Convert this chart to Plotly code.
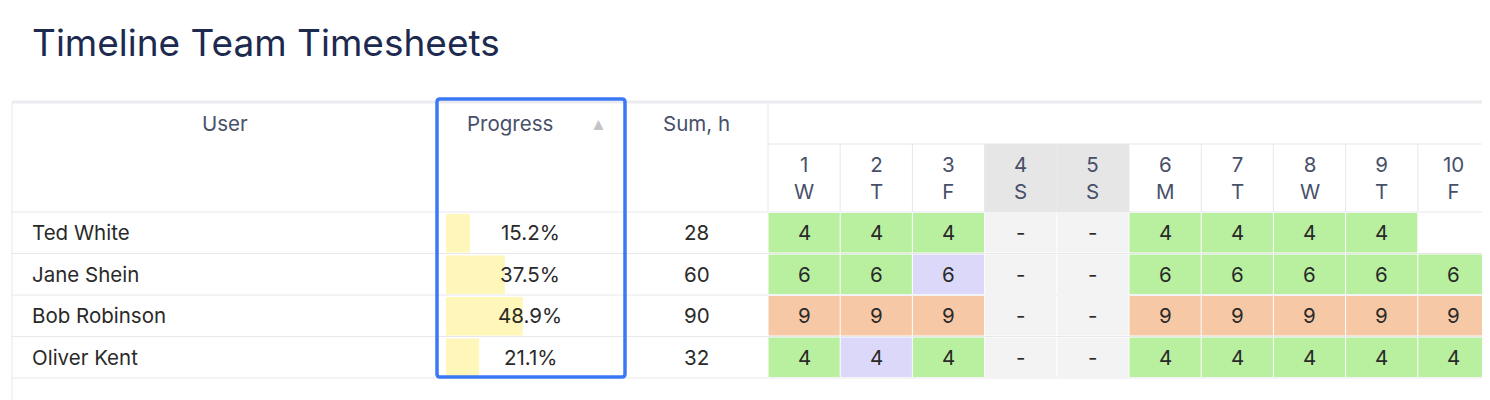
import plotly.graph_objects as go

title = "Timeline Team Timesheets"
users = ["Ted White", "Jane Shein", "Bob Robinson", "Oliver Kent"]
progress = [15.2, 37.5, 48.9, 21.1]
sums = [28, 60, 90, 32]
day_nums = ["1", "2", "3", "4", "5", "6", "7", "8", "9", "10"]
day_letters = ["W", "T", "F", "S", "S", "M", "T", "W", "T", "F"]
weekend = [False, False, False, True, True, False, False, False, False, False]
hours = [
    [4, 4, 4, None, None, 4, 4, 4, 4, None],
    [6, 6, 6, None, None, 6, 6, 6, 6, 6],
    [9, 9, 9, None, None, 9, 9, 9, 9, 9],
    [4, 4, 4, None, None, 4, 4, 4, 4, 4],
]
# status: g=normal, p=adjusted, o=overtime, w=weekend, e=empty
status = [
    ["g", "g", "g", "w", "w", "g", "g", "g", "g", "e"],
    ["g", "g", "p", "w", "w", "g", "g", "g", "g", "g"],
    ["o", "o", "o", "w", "w", "o", "o", "o", "o", "o"],
    ["g", "p", "g", "w", "w", "g", "g", "g", "g", "g"],
]

COL = {"g": "#b9f0a0", "p": "#dcd8fa", "o": "#f7c8a6", "w": "#f3f3f3", "e": "#ffffff"}
HDR = "#475069"
TXT = "#2a2a2a"
FONT = "Inter"
FS = 20.5
LINE = "#e8e8ec"

user_x = (12, 437)
prog_x = (437, 625)
sum_x = (625, 768)
day0, dayw = 768, 72.2
hdr_top, hdr_mid, hdr_bot = 102, 144, 212
row_h = 41.5

shapes, ann = [], []

def rect(x0, y0, x1, y1, fill):
    shapes.append(dict(type="rect", xref="x", yref="y", x0=x0, y0=y0, x1=x1, y1=y1,
                       fillcolor=fill, line=dict(width=0), layer="below"))

def text(x, y, t, color=TXT, size=FS, xanchor="center"):
    ann.append(dict(x=x, y=y, xref="x", yref="y", text=t, showarrow=False,
                    font=dict(family=FONT, size=size, color=color), xanchor=xanchor, yanchor="middle"))

shapes.append(dict(type="line", x0=12, x1=1500, y0=hdr_top, y1=hdr_top, line=dict(color="#ececf0", width=3)))
shapes.append(dict(type="line", x0=12, x1=12, y0=hdr_top, y1=400, line=dict(color=LINE, width=1)))
text(sum(user_x) / 2, 123, "User", HDR)
text(510, 123, "Progress", HDR)
ann.append(dict(x=598, y=123, xref="x", yref="y", text="▲", showarrow=False,
                font=dict(size=17, color="#c4c4c4")))
text(sum(sum_x) / 2, 123, "Sum, h", HDR)
shapes.append(dict(type="line", x0=sum_x[1], x1=sum_x[1], y0=hdr_top, y1=hdr_bot, line=dict(color=LINE, width=1)))
shapes.append(dict(type="line", x0=sum_x[1], x1=1500, y0=hdr_mid, y1=hdr_mid, line=dict(color=LINE, width=1)))
for i, (n, l) in enumerate(zip(day_nums, day_letters)):
    x0 = day0 + i * dayw
    if weekend[i]:
        rect(x0, hdr_mid, x0 + dayw, hdr_bot, "#e6e6e6")
    shapes.append(dict(type="line", x0=x0 + dayw, x1=x0 + dayw, y0=hdr_mid, y1=hdr_bot, line=dict(color=LINE, width=1)))
    text(x0 + dayw / 2, 178, n + "<br>" + l, HDR)
shapes.append(dict(type="line", x0=12, x1=1500, y0=hdr_bot, y1=hdr_bot, line=dict(color=LINE, width=1)))

for r, u in enumerate(users):
    y0 = hdr_bot + r * row_h
    y1 = y0 + row_h
    yc = (y0 + y1) / 2
    text(30, yc, u, TXT, FS, "left")
    rect(446, y0 + 2, 446 + progress[r] * 1.57, y1 - 1, "#fff6b9")
    text(530, yc, f"{progress[r]}%")
    text(sum(sum_x) / 2, yc, str(sums[r]))
    for i in range(10):
        x0 = day0 + i * dayw
        rect(x0 + 0.5, y0 + 1, x0 + dayw - 0.5, y1 - 1, COL[status[r][i]])
        h = hours[r][i]
        if h is not None:
            text(x0 + dayw / 2, yc, str(h))
        elif status[r][i] == "w":
            text(x0 + dayw / 2, yc, "-")
    shapes.append(dict(type="line", x0=12, x1=1500, y0=y1, y1=y1, line=dict(color=LINE, width=1)))

shapes.append(dict(type="path", xref="x", yref="y",
                   path="M 440,99 L 622,99 Q 625,99 625,102 L 625,374 Q 625,377 622,377 L 440,377 Q 437,377 437,374 L 437,102 Q 437,99 440,99 Z",
                   line=dict(color="#3a78f5", width=3.5), fillcolor="rgba(0,0,0,0)"))

text(30, 42, title, "#1d2a4f", 37, "left")

fig = go.Figure()
fig.update_layout(width=1490, height=400, margin=dict(l=0, r=0, t=0, b=0),
                  paper_bgcolor="white", plot_bgcolor="white", shapes=shapes, annotations=ann,
                  xaxis=dict(range=[8, 1498], visible=False, fixedrange=True),
                  yaxis=dict(range=[408, 8], visible=False, fixedrange=True), showlegend=False)
fig.write_html("out.html")
